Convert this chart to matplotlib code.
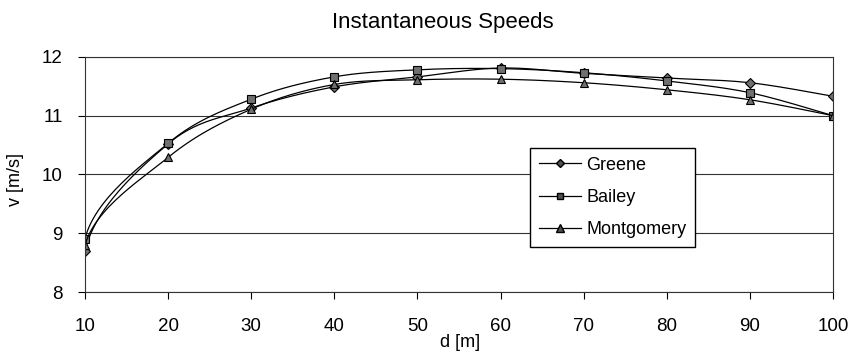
import numpy as np
import matplotlib.pyplot as plt

plt.rcParams['font.family'] = ['Liberation Sans', 'DejaVu Sans']

distance = [10, 20, 30, 40, 50, 60, 70, 80, 90, 100]
greene = [8.70, 10.52, 11.13, 11.49, 11.66, 11.81, 11.72, 11.64, 11.56, 11.33]
bailey = [8.91, 10.53, 11.28, 11.66, 11.78, 11.80, 11.73, 11.59, 11.39, 11.00]
montgomery = [8.80, 10.29, 11.11, 11.53, 11.61, 11.62, 11.56, 11.44, 11.27, 11.00]


def smooth(x, y, n=30):
    # bezier smoothing through the points, roughly like Excel's smoothed line
    pts = np.column_stack([x, y]).astype(float)
    t = np.linspace(0, 1, n)[:, None]
    xs, ys = [], []
    for i in range(len(pts) - 1):
        p0, p3 = pts[i], pts[i + 1]
        prev = pts[i - 1] if i > 0 else p0
        nxt = pts[i + 2] if i + 2 < len(pts) else p3
        if i == 0:
            # steep start, as in the reference curve
            chord = p3 - p0
            p1 = p0 + np.array([chord[0] / 8, chord[1] / 2.4])
        else:
            p1 = p0 + (p3 - prev) / 6
        p2 = p3 - (nxt - p0) / 6
        b = (1 - t) ** 3 * p0 + 3 * (1 - t) ** 2 * t * p1 + 3 * (1 - t) * t ** 2 * p2 + t ** 3 * p3
        xs.extend(b[:, 0])
        ys.extend(b[:, 1])
    return xs, ys


fig = plt.figure(figsize=(8.55, 3.51), dpi=100)
ax = fig.add_axes([0.0994, 0.168, 0.875, 0.670])

series = [("Greene", greene, "D", 5), ("Bailey", bailey, "s", 5.5), ("Montgomery", montgomery, "^", 6)]
for name, vals, mk, ms in series:
    sx, sy = smooth(distance, vals)
    ax.plot(sx, sy, color="black", lw=0.9)
    ax.plot(distance, vals, linestyle="none", marker=mk, ms=ms, mfc="#707070", mec="black", mew=0.8)
    ax.plot([], [], color="black", lw=0.9, marker=mk, ms=ms - 0.5, mfc="#505050", mec="black", label=name)

ax.set_xlim(10, 100)
ax.set_ylim(8, 12)
ax.set_xticks(distance)
ax.set_yticks([8, 9, 10, 11, 12])
ax.yaxis.grid(True, color="#333333", lw=0.8)
ax.set_axisbelow(True)
for s in ax.spines.values():
    s.set_linewidth(0.8)
    s.set_color("#333333")
ax.tick_params(labelsize=13.5, length=5, width=0.8)
ax.tick_params(axis="x", pad=14)
ax.tick_params(axis="y", pad=11)

ax.set_title("Instantaneous Speeds", fontsize=16, pad=21, x=0.478)
ax.set_xlabel("d [m]", fontsize=13)
ax.set_ylabel("v [m/s]", fontsize=13)
ax.xaxis.set_label_coords(0.501, -0.178)
ax.yaxis.set_label_coords(-0.082, 0.48)

handles, labels = ax.get_legend_handles_labels()
ax.legend(handles, labels, loc="lower left", bbox_to_anchor=(0.595, 0.19), borderaxespad=0,
          fontsize=13, frameon=True, fancybox=False, edgecolor="black", framealpha=1,
          handlelength=2.3, handletextpad=0.3, borderpad=0.5, labelspacing=0.85)

fig.savefig("out.png", dpi=100)
